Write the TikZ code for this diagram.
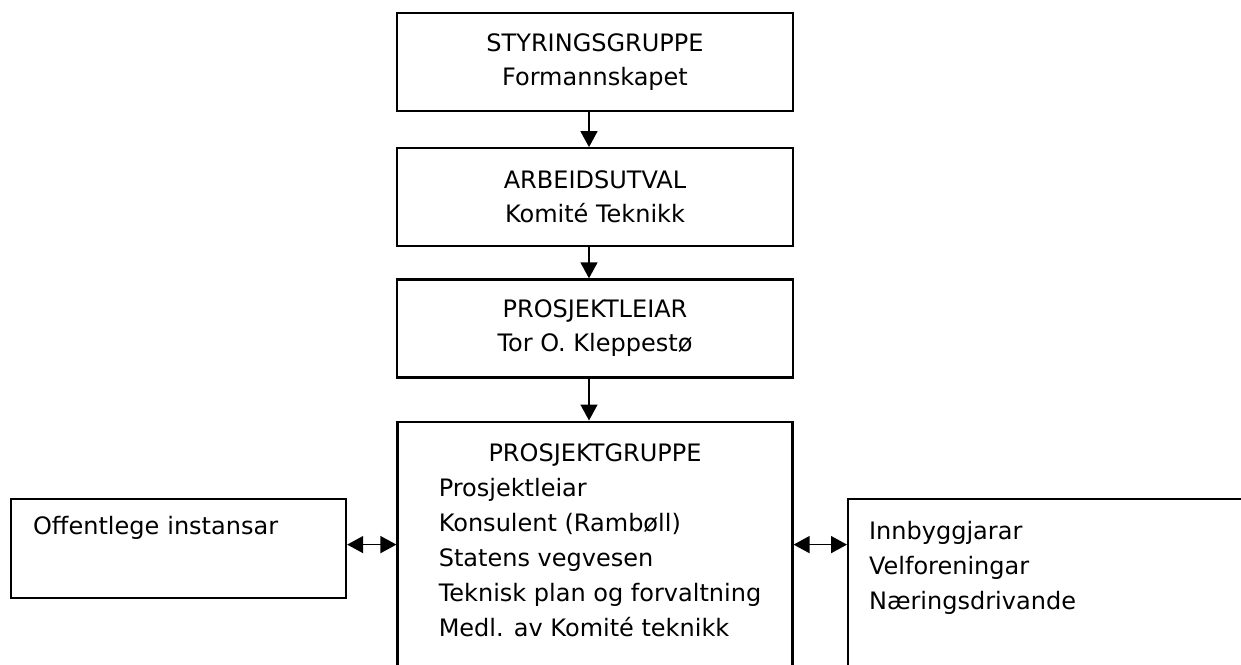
\documentclass[tikz,border=0pt]{standalone}
\usepackage{fontspec}
\setmainfont{DejaVu Sans}
\usetikzlibrary{arrows.meta, positioning}

\begin{document}
\begin{tikzpicture}[x=0.5pt, y=-0.5pt]
	% Setup the style for the boxes
	\tikzset{box style/.style={draw, line width=1.1pt,
			font=\fontsize{12}{17}\selectfont},
		level box/.style={box style, align=center,
			minimum width=198pt, minimum height=49pt},
		side box/.style={box style, align=left, anchor=north west,
			font=\fontsize{12}{17.5}\selectfont}}
	
	\useasboundingbox (0,0) rectangle (1241,664);
	\clip (0,0) rectangle (1241,664);
	
	\node[level box] at (595,62)              (styring) {STYRINGSGRUPPE\\Formannskapet};
	\node[level box, below=17.5pt of styring] (arbeid)  {ARBEIDSUTVAL\\Komité Teknikk};
	\node[level box, below=15.5pt of arbeid]  (leiar)   {PROSJEKTLEIAR\\Tor O. Kleppestø};
	\node[box style, below=21pt of leiar, minimum width=197.5pt, minimum height=138pt,
		font=\fontsize{12}{17.5}\selectfont] (gruppe) {%
		\begin{tabular}{@{\hspace{5pt}}l@{}}
			\multicolumn{1}{c}{PROSJEKTGRUPPE}\\
			Prosjektleiar\\
			Konsulent (Rambøll)\\
			Statens vegvesen\\
			Teknisk plan og forvaltning\\
			Medl. av Komité teknikk\\
			\\
		\end{tabular}};
	
	\node[side box, inner xsep=11pt, text width=145.5pt, minimum height=49.5pt]
		at (10,498) (offentleg) {Offentlege instansar\\\strut};
	\node[side box, inner xsep=10.5pt, text width=190pt, minimum height=89pt]
		at (847,498) (innbyggjar) {Innbyggjarar\\Velforeningar\\Næringsdrivande\\\strut};
	
	\draw[>={Triangle[length=8pt, width=8.5pt]}, line width=0.8pt]
	([xshift=-3pt]styring.south) edge[->] ([xshift=-3pt]arbeid.north)
	([xshift=-3pt]arbeid.south)  edge[->] ([xshift=-3pt]leiar.north)
	([xshift=-3pt]leiar.south)   edge[->] ([xshift=-3pt]gruppe.north)
	([yshift=2pt]offentleg.east) edge[<->] ([yshift=2pt]gruppe.west |- offentleg.east)
	([yshift=2pt]gruppe.east |- offentleg.east) edge[<->] ([yshift=2pt]innbyggjar.west |- offentleg.east);
	
\end{tikzpicture}
\end{document}
